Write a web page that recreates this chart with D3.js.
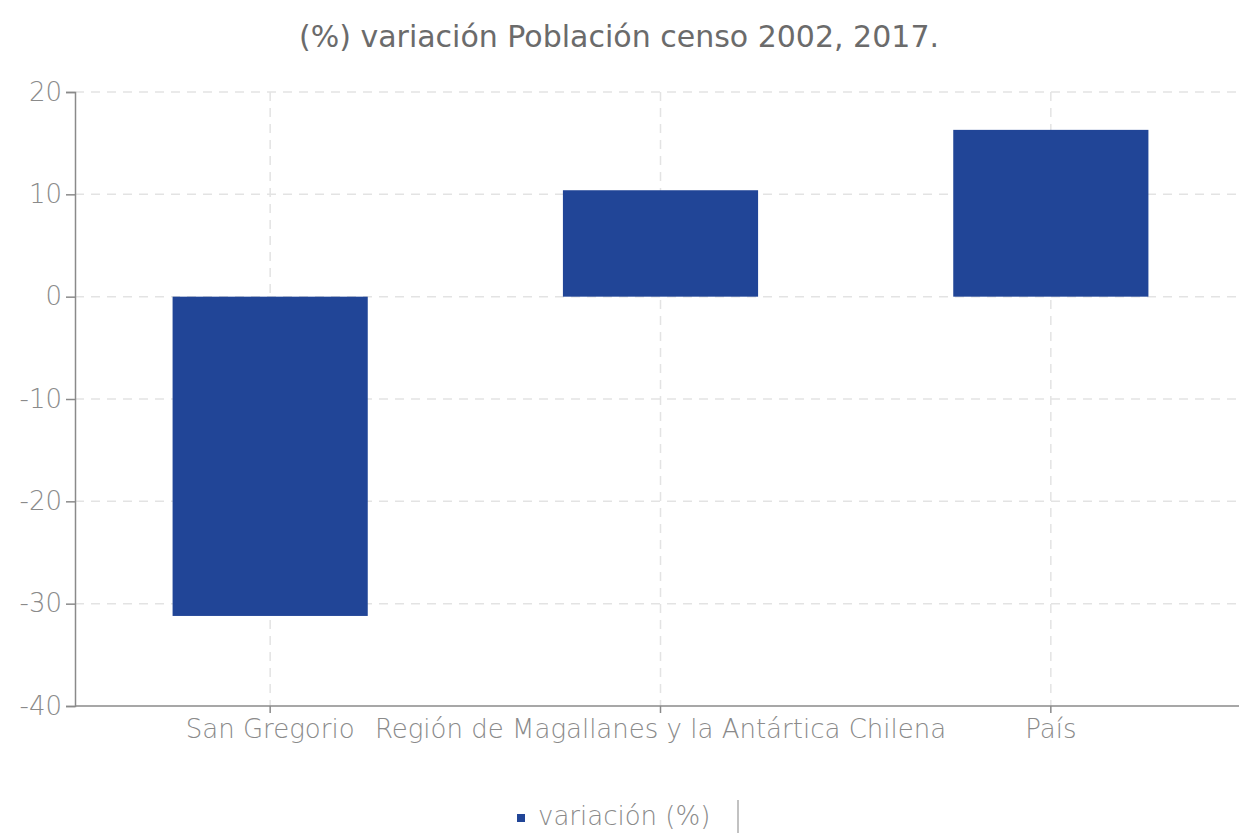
<!DOCTYPE html>
<html lang="es">
<head>
<meta charset="UTF-8">
<title>variación Población censo</title>
<style>
body { margin: 0; background: #fff; }
text { font-family: 'DejaVu Sans', sans-serif; }
.title { font-size: 30px; fill: #6b6b6b; }
.axis text { font-size: 26px; fill: #8a8a8a; font-weight: 200; }
.axis path, .axis line { stroke: #8a8a8a; stroke-width: 1.5; }
.grid line { stroke: #e3e3e3; stroke-width: 1.5; stroke-dasharray: 9 7; }
.legend text { font-size: 26px; fill: #8a8a8a; font-weight: 200; }
</style>
</head>
<body>
<div id="vis"></div>
<script src="https://d3js.org/d3.v7.min.js"></script>
<script>
const categories = ["San Gregorio", "Región de Magallanes y la Antártica Chilena", "País"];
const values = [-31.2, 10.4, 16.3];
const yTicks = [-40, -30, -20, -10, 0, 10, 20];
const seriesName = "variación (%)";

const width = 1239;
const height = 834;
const plotLeft = 75;
const plotTop = 92;
const plotBottom = 706;

let svg = d3.select("#vis").append("svg")
    .attr("width", width)
    .attr("height", height);

let xScale = d3.scaleBand()
    .domain(categories)
    .range([plotLeft, 1246])
    .paddingInner(0.5)
    .paddingOuter(0.25);

let yScale = d3.scaleLinear()
    .domain([-40, 20])
    .range([plotBottom, plotTop]);

svg.append("text")
    .attr("class", "title")
    .attr("x", 619)
    .attr("y", 47)
    .attr("text-anchor", "middle")
    .text("(%) variación Población censo 2002, 2017.");

// grid
let grid = svg.append("g").attr("class", "grid");
grid.selectAll(".h")
    .data(yTicks.filter(d => d > -40))
    .enter().append("line")
    .attr("x1", plotLeft)
    .attr("x2", width)
    .attr("y1", d => yScale(d))
    .attr("y2", d => yScale(d));
grid.selectAll(".v")
    .data(categories)
    .enter().append("line")
    .attr("x1", d => xScale(d) + xScale.bandwidth() / 2)
    .attr("x2", d => xScale(d) + xScale.bandwidth() / 2)
    .attr("y1", plotTop)
    .attr("y2", plotBottom);

// bars
svg.selectAll("rect.bar")
    .data(values)
    .enter().append("rect")
    .attr("class", "bar")
    .attr("x", (d, i) => xScale(categories[i]))
    .attr("width", xScale.bandwidth())
    .attr("y", d => yScale(Math.max(0, d)))
    .attr("height", d => Math.abs(yScale(d) - yScale(0)))
    .style("fill", "#214597");

// axes
let yAxis = svg.append("g")
    .attr("class", "axis")
    .attr("transform", "translate(" + plotLeft + ",0)")
    .call(d3.axisLeft(yScale).tickValues(yTicks).tickFormat(d => String(d))
        .tickSize(9).tickSizeOuter(9).tickPadding(4));

let xAxis = svg.append("g")
    .attr("class", "axis")
    .attr("transform", "translate(0," + plotBottom + ")")
    .call(d3.axisBottom(xScale).tickSize(7).tickSizeOuter(0).tickPadding(7));
xAxis.select(".domain").attr("d", "M" + plotLeft + ",0H" + width);

// legend
let legend = svg.append("g").attr("class", "legend");
legend.append("rect")
    .attr("x", 517)
    .attr("y", 814)
    .attr("width", 8)
    .attr("height", 8)
    .style("fill", "#214597");
legend.append("text")
    .attr("x", 538)
    .attr("y", 825)
    .text(seriesName);
legend.append("line")
    .attr("x1", 738)
    .attr("x2", 738)
    .attr("y1", 800)
    .attr("y2", 833)
    .style("stroke", "#999")
    .style("stroke-width", 1.2);
</script>
</body>
</html>
